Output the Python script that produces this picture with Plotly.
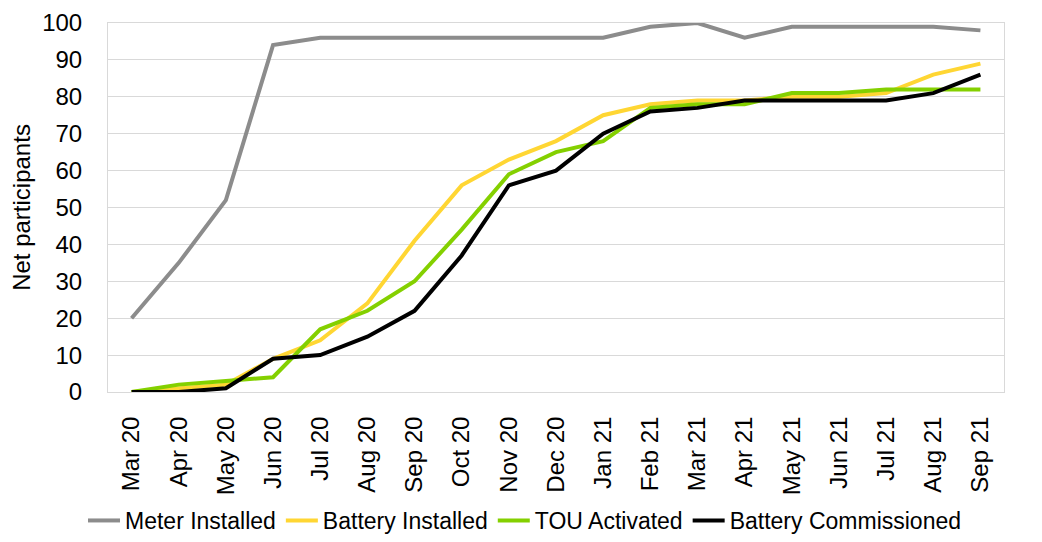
import plotly.graph_objects as go

months = ["Mar 20", "Apr 20", "May 20", "Jun 20", "Jul 20", "Aug 20", "Sep 20", "Oct 20",
          "Nov 20", "Dec 20", "Jan 21", "Feb 21", "Mar 21", "Apr 21", "May 21", "Jun 21",
          "Jul 21", "Aug 21", "Sep 21"]
meter_installed = [20, 35, 52, 94, 96, 96, 96, 96, 96, 96, 96, 99, 100, 96, 99, 99, 99, 99, 98]
battery_installed = [0, 1, 2, 9, 14, 24, 41, 56, 63, 68, 75, 78, 79, 79, 80, 80, 81, 86, 89]
tou_activated = [0, 2, 3, 4, 17, 22, 30, 44, 59, 65, 68, 77, 78, 78, 81, 81, 82, 82, 82]
battery_commissioned = [0, 0, 1, 9, 10, 15, 22, 37, 56, 60, 70, 76, 77, 79, 79, 79, 79, 81, 86]

series = [
    ("Meter Installed", meter_installed, "#8c8c8c"),
    ("Battery Installed", battery_installed, "#ffd633"),
    ("TOU Activated", tou_activated, "#84d000"),
    ("Battery Commissioned", battery_commissioned, "#000000"),
]

fig = go.Figure()
for name, vals, color in series:
    fig.add_trace(go.Scatter(x=months, y=vals, name=name, mode="lines",
                             line=dict(color=color, width=4)))

# page body has an 8px default margin; size the figure to compensate
fig.update_layout(
    width=1034, height=534,
    margin=dict(l=100, r=38, t=15, b=150),
    plot_bgcolor="white", paper_bgcolor="white",
    font=dict(family="Liberation Sans, Arial, sans-serif", size=22, color="#000"),
    showlegend=True,
    legend=dict(orientation="h", xref="container", yref="container",
                x=0.5, xanchor="center", y=-0.013, yanchor="bottom",
                font=dict(family="Liberation Sans, Arial, sans-serif", size=23),
                itemwidth=32, tracegroupgap=0, bgcolor="rgba(0,0,0,0)"),
)
fig.update_xaxes(
    type="category", range=[-0.5, 18.5], tickangle=-90, automargin=False,
    showgrid=False, showline=True, linecolor="#d9d9d9", linewidth=1, mirror=True,
    ticks="", tickfont=dict(size=24), ticklabelstandoff=14,
)
fig.update_yaxes(
    range=[0, 100], dtick=10, showgrid=True, gridcolor="#d9d9d9", gridwidth=1,
    automargin=False,
    showline=True, linecolor="#d9d9d9", linewidth=1, mirror=True, zeroline=False,
    title=dict(text="Net participants", font=dict(size=24)),
    tickfont=dict(size=24), ticklabelstandoff=20,
)

fig.write_html("out.html")
